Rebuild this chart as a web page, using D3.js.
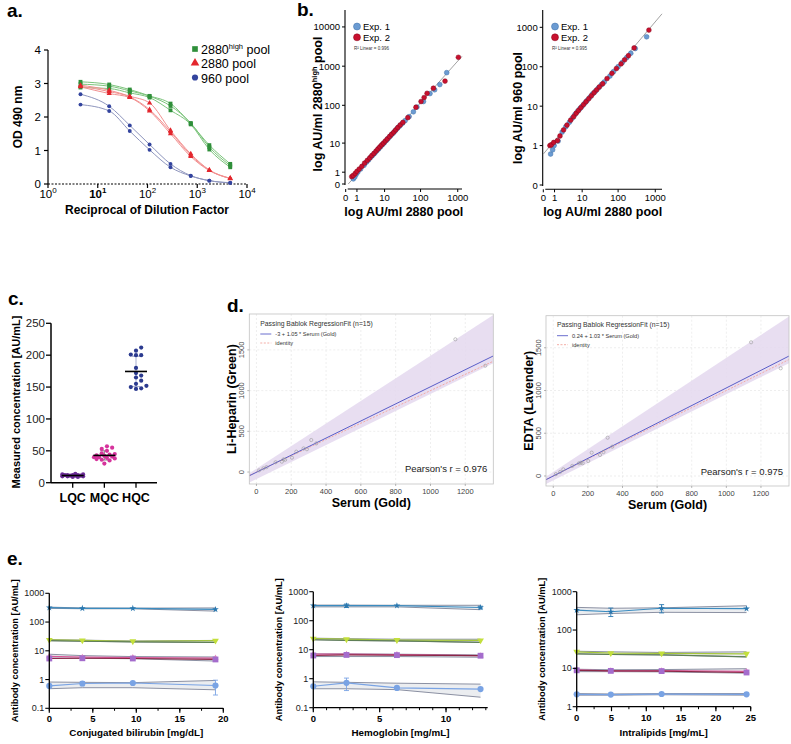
<!DOCTYPE html>
<html><head><meta charset="utf-8">
<script src="https://cdn.jsdelivr.net/npm/d3@7"></script>
<style>body{margin:0;background:#fff;} text{font-family:"Liberation Sans",Arial,Helvetica,sans-serif;}</style>
</head><body><svg id="chart" width="791" height="744"></svg>
<script>
// ---------------- DATA ----------------
// panel a
const aDilution = [4.5, 17, 44, 110, 290, 740, 1750, 4600];
const aHighRep1 = [3.05, 2.97, 2.82, 2.63, 2.40, 1.80, 1.16, 0.60];
const aHighRep2 = [2.88, 2.85, 2.72, 2.58, 2.20, 1.78, 1.03, 0.50];
const aHighRep3 = [2.98, 2.92, 2.78, 2.62, 2.33, 1.82, 1.10, 0.55];
const aMidRep1 = [2.95, 2.80, 2.62, 2.42, 1.60, 0.90, 0.42, 0.17];
const aMidRep2 = [2.90, 2.70, 2.58, 2.18, 1.50, 0.82, 0.40, 0.17];
const aMidRep3 = [2.92, 2.76, 2.60, 2.22, 1.56, 0.86, 0.41, 0.16];
const aLowRep1 = [2.68, 2.32, 1.75, 1.18, 0.60, 0.25, 0.10, 0.04];
const aLowRep2 = [2.37, 2.18, 1.58, 1.02, 0.50, 0.24, 0.10, 0.03];
const aYTicks = [0, 1, 2, 3, 4];
const aXTicks = [1, 10, 100, 1000, 10000];
const aLegend = ["2880", "2880 pool", "960 pool"];

// panel b (left: 2880high vs 2880, right: 960 vs 2880)
const bLeftExp1X = [0.6,0.75,0.9,1.1,1.5,2.1,2.6,3.1,3.7,4.3,5.0,5.8,6.6,7.5,8.6,9.8,11.5,13,15,17.5,20,23,27,32,38,49,64,80,120,180,240,330,506];
const bLeftExp1Y = [0.35,0.5,0.75,1.0,1.4,2.0,2.6,3.1,3.8,4.4,5.1,6.0,6.8,7.8,9.0,10.2,12.0,13.8,16,18.5,21.5,25,29,34,40,51,68,90,125,200,250,340,685];
const bLeftExp2X = [0.45,0.6,0.8,1.0,1.3,1.7,2.2,2.8,3.4,4.0,4.7,5.5,6.3,7.2,8.2,9.3,10.5,12,14,16,18.5,21,24,28,33,45,75,103,125,150,222,456,1040];
const bLeftExp2Y = [0.54,0.65,0.85,1.1,1.4,1.8,2.4,3.0,3.6,4.3,5.0,5.9,6.8,7.8,8.9,10,11.4,13,15.2,17.5,20,23,26.5,31,36,48,89,125,158,203,274,416,1685];
const bRightExp1X = [0.57,0.78,0.95,1.5,2.2,3,4,5,6,7.2,8.5,10,12,14,17,20,24,29,35,42,60,75,100,130,170,220,290,586];
const bRightExp1Y = [0.61,0.78,1.0,1.3,2.2,3,3.9,5,6.1,7.3,8.6,10,12,14,17,20.5,24,29,35,41,58,75,100,128,170,220,290,575];
const bRightExp2X = [0.5,0.65,0.9,1.4,1.8,2.5,3.3,4.4,5.5,6.6,7.8,9.2,11,13,15.5,18.5,22,26,31,38,50,68,90,120,150,190,270,675];
const bRightExp2Y = [1.0,1.05,1.2,1.34,1.75,2.5,3.3,4.4,5.4,6.6,7.8,9.2,11,13,15.5,18.5,22,26,31,37,50,68,90,118,150,190,300,850];
const bLeftFit = [[0.17, 0], [1300, 1790]];
const bRightFit = [[0, 0.61], [1515, 2200]];
const bLeftXTicks = [0, 1, 10, 100, 1000];
const bLeftYTicks = [0, 1, 10, 100, 1000, 10000];
const bRightXTicks = [0, 1, 10, 100, 1000];
const bRightYTicks = [0.1, 1, 10, 100, 1000];
const bRightYLabels = ["0", "1", "10", "100", "1000"];

// panel c
const cCategories = ["LQC", "MQC", "HQC"];
const cLQC = [9, 10, 10, 11, 11, 12, 12, 13, 13, 14, 12, 11, 10, 9, 12];
const cMQC = [57, 55, 53, 50, 46, 45, 44, 43, 42, 41, 40, 40, 39, 38, 37, 36, 35, 30];
const cHQC = [212, 207, 200, 200, 201, 180, 172, 168, 160, 152, 150, 148, 147, 155, 165];
const cYTicks = [0, 50, 100, 150, 200, 250];

// panel d
const dHepSerum = [15, 40, 58, 146, 156, 165, 204, 229, 271, 290, 315, 344, 1143, 1315, 110];
const dHepValue = [20, 45, 60, 127, 156, 150, 176, 250, 290, 280, 393, 352, 1630, 1306, 120];
const dEdtaSerum = [15, 40, 58, 148, 160, 170, 202, 222, 270, 290, 314, 341, 1143, 1314, 110];
const dEdtaValue = [22, 48, 78, 148, 156, 150, 175, 273, 246, 280, 448, 343, 1564, 1260, 118];
const dHepFit = [-3, 1.05];
const dEdtaFit = [0.24, 1.03];
const dHepBandLo = [[-41, -128], [1361, 1335]];
const dHepBandHi = [[-41, -15], [1361, 1929]];
const dEdtaBandLo = [[-42, -95], [1362, 1320]];
const dEdtaBandHi = [[-42, -10], [1362, 1865]];
const dXTicks = [0, 200, 400, 600, 800, 1000, 1200];
const dYTicks = [0, 500, 1000, 1500];

// panel e
const eBiliX = [0, 3.8, 9.6, 19.1];
const biliTeal = [320, 300, 300, 275], biliTealHi = [330, 310, 305, 310], biliTealLo = [300, 290, 290, 240];
const biliGreen = [24, 23, 21.5, 22.5], biliGreenHi = [24.5, 23.5, 22, 23], biliGreenLo = [22.5, 21.5, 20.5, 19.5];
const biliPink = [6.4, 6.0, 5.8, 5.6], biliPurple = [5.4, 5.5, 5.4, 5.0], biliPinkHi = [7.6, 6.8, 6.3, 6.1], biliPinkLo = [5.6, 5.5, 5.3, 4.4];
const biliBlue = [0.6, 0.73, 0.76, 0.62], biliBlueErr = [0, 0.12, 0.04, 0.33], biliBlueHi = [0.82, 0.8, 0.78, 0.93], biliBlueLo = [0.48, 0.52, 0.52, 0.44];
const eHbX = [0, 2.5, 6.3, 12.6];
const hbTeal = [330, 330, 330, 285], hbTealErr = [0, 45, 0, 30], hbTealHi = [345, 345, 340, 340], hbTealLo = [300, 300, 300, 240];
const hbGreen = [24, 23, 21.5, 21], hbGreenHi = [25, 24, 23, 23], hbGreenLo = [22, 21, 20, 18];
const hbPink = [7.0, 7.0, 6.8, 6.2], hbPurple = [6.3, 6.6, 6.5, 6.2], hbPinkHi = [7.2, 7.2, 7.0, 6.6], hbPinkLo = [5.8, 5.8, 5.8, 5.5];
const hbBlue = [0.55, 0.72, 0.48, 0.44], hbBlueErr = [0, 0.33, 0, 0], hbBlueHi = [0.78, 0.75, 0.7, 0.65], hbBlueLo = [0.45, 0.45, 0.42, 0.23];
const eIlX = [0, 4.9, 12.2, 24.4];
const ilTeal = [330, 300, 370, 360], ilTealErr = [0, 75, 90, 0], ilTealHi = [390, 370, 380, 430], ilTealLo = [250, 270, 290, 285];
const ilGreen = [27, 25, 24.5, 24], ilGreenHi = [28, 27, 26, 27], ilGreenLo = [24, 23, 22.5, 20];
const ilPink = [9.2, 8.6, 8.7, 8.3], ilPurple = [8.9, 8.6, 8.5, 7.8], ilPinkHi = [9.5, 9.2, 9.3, 9.8], ilPinkLo = [8.2, 8.2, 8.1, 7.5];
const ilBlue = [2.1, 2.07, 2.14, 2.1], ilBlueHi = [2.2, 2.15, 2.2, 2.2], ilBlueLo = [2.0, 2.0, 2.05, 2.0];

// ---------------- DRAW ----------------
const svg = d3.select('#chart');
svg.append('rect').attr('width', 791).attr('height', 744).attr('fill', '#fff');

function T(g, x, y, s, o = {}) {
  const t = g.append('text').attr('x', x).attr('y', y).text(s)
    .attr('font-size', o.size || 10).attr('fill', o.fill || '#000')
    .attr('text-anchor', o.anchor || 'start').attr('font-weight', o.bold ? 'bold' : 'normal');
  if (o.rotate) t.attr('transform', `rotate(${o.rotate},${x},${y})`);
  return t;
}
function L(g, x1, y1, x2, y2, c = '#000', w = 1, dash) {
  const l = g.append('line').attr('x1', x1).attr('y1', y1).attr('x2', x2).attr('y2', y2)
    .attr('stroke', c).attr('stroke-width', w);
  if (dash) l.attr('stroke-dasharray', dash);
  return l;
}

// ===== Panel a =====
(function () {
  const g = svg.append('g');
  const x = d3.scaleLog().domain([1, 1e4]).range([48, 247]);
  const y = d3.scaleLinear().domain([0, 4]).range([184, 50]);
  L(g, 48, y(4), 48, y(0), '#000', 1.2);
  aYTicks.forEach(t => { L(g, 44, y(t), 48, y(t), '#000', 1.2); T(g, 41, y(t) + 4, String(t), {size: 11.5, anchor: 'end'}); });
  L(g, 48, y(0), 247, y(0), '#000', 1.1, '2,1.5');
  aXTicks.forEach((t, i) => {
    L(g, x(t), y(0), x(t), y(0) + 4, '#000', 1.2);
    const tx = g.append('text').attr('x', x(t)).attr('y', 198).attr('text-anchor', 'middle').attr('font-size', 11.5)
      .attr('font-weight', i === 1 ? 'bold' : 'normal');
    tx.append('tspan').text('10');
    tx.append('tspan').attr('dy', -5).attr('font-size', 8).text(String(i));
  });
  T(g, 147, 214, 'Reciprocal of Dilution Factor', {size: 12, bold: true, anchor: 'middle'});
  T(g, 22, 117, 'OD 490 nm', {size: 12, bold: true, anchor: 'middle', rotate: -90});

  const line = d3.line().x(d => x(d[0])).y(d => y(d[1])).curve(d3.curveMonotoneX);
  const groups = [
    {reps: [aHighRep1, aHighRep2, aHighRep3], lc: '#7cc47c', mc: '#2f8f3a', shape: d3.symbolSquare, size: 15},
    {reps: [aMidRep1, aMidRep2, aMidRep3], lc: '#f29090', mc: '#e3262d', shape: d3.symbolTriangle, size: 12},
    {reps: [aLowRep1, aLowRep2], lc: '#8e95bd', mc: '#33449e', shape: d3.symbolCircle, size: 12}
  ];
  groups.forEach(gr => {
    gr.reps.forEach(r => {
      g.append('path').datum(aDilution.map((d, i) => [d, r[i]])).attr('d', line)
        .attr('fill', 'none').attr('stroke', gr.lc).attr('stroke-width', 1);
    });
  });
  groups.forEach(gr => {
    gr.reps.forEach(r => {
      aDilution.forEach((d, i) => {
        g.append('path').attr('d', d3.symbol(gr.shape, gr.size)())
          .attr('transform', `translate(${x(d)},${y(r[i])})`).attr('fill', gr.mc);
      });
    });
  });
  // legend
  const ly = [49.5, 63.5, 78];
  groups.forEach((gr, i) => {
    g.append('path').attr('d', d3.symbol(gr.shape, i === 2 ? 30 : 32)()).attr('transform', `translate(195,${ly[i] - 0.5})`).attr('fill', gr.mc);
    const tx = g.append('text').attr('x', 201).attr('y', ly[i] + 4.5).attr('font-size', 12.5);
    if (i === 0) {
      tx.append('tspan').text(aLegend[0]);
      tx.append('tspan').attr('dy', -5).attr('font-size', 7.5).text('high');
      tx.append('tspan').attr('dy', 5).text(' pool');
    } else tx.text(aLegend[i]);
  });
})();

// ===== Panel b =====
function drawB(o) {
  const g = svg.append('g');
  const x = d3.scaleSymlog().constant(1).domain(o.xDomain).range(o.xRange);
  const y = (o.yLog ? d3.scaleLog() : d3.scaleSymlog().constant(1)).domain(o.yDomain).range(o.yRange);
  L(g, o.yAxisX, o.yRange[1], o.yAxisX, o.yRange[0] + 1, '#000', 1.1);
  o.yTicks.forEach((t, i) => {
    L(g, o.yAxisX - 3, y(t), o.yAxisX, y(t), '#000', 1);
    T(g, o.yAxisX - 5, y(t) + 3.5, o.yLabels ? o.yLabels[i] : String(t), {size: 9.5, anchor: 'end'});
  });
  L(g, o.xRange[0] + 2, o.xAxisY, o.xRange[1], o.xAxisY, '#000', 1.1);
  o.xTicks.forEach(t => {
    L(g, x(t), o.xAxisY, x(t), o.xAxisY + 3, '#000', 1);
    T(g, x(t), o.xAxisY + 12, String(t), {size: 9.5, anchor: 'middle'});
  });
  g.append('line').attr('x1', x(o.fit[0][0])).attr('y1', y(o.fit[0][1])).attr('x2', x(o.fit[1][0])).attr('y2', y(o.fit[1][1]))
    .attr('stroke', '#8a8a8a').attr('stroke-width', 0.8);
  const pts = (xs, ys, fill, stroke) => xs.forEach((d, i) => g.append('circle').attr('cx', x(d)).attr('cy', y(ys[i])).attr('r', 2.4)
    .attr('fill', fill).attr('stroke', stroke).attr('stroke-width', 0.5));
  pts(o.e1x, o.e1y, '#6b9bd2', '#3d6ea8');
  pts(o.e2x, o.e2y, '#c8102e', '#86091d');
  // legend
  g.append('circle').attr('cx', o.legX).attr('cy', 26.5).attr('r', 3.5).attr('fill', '#6b9bd2').attr('stroke', '#3d6ea8').attr('stroke-width', 0.5);
  g.append('circle').attr('cx', o.legX).attr('cy', 37.3).attr('r', 3.5).attr('fill', '#c8102e').attr('stroke', '#86091d').attr('stroke-width', 0.5);
  T(g, o.legX + 6, 30, 'Exp. 1', {size: 9.5});
  T(g, o.legX + 6, 40.8, 'Exp. 2', {size: 9.5});
  T(g, o.legX - 3, 49.5, o.r2, {size: 4.5, fill: '#333'});
  T(g, (o.xRange[0] + o.xRange[1]) / 2, 216, 'log AU/ml 2880 pool', {size: 12.5, bold: true, anchor: 'middle'});
  const yl = g.append('text').attr('x', o.yTitleX).attr('y', o.yTitleY).attr('text-anchor', 'middle').attr('font-size', 12.5)
    .attr('font-weight', 'bold').attr('transform', `rotate(-90,${o.yTitleX},${o.yTitleY})`);
  if (o.yTitleSup) {
    yl.append('tspan').text('log AU/ml 2880');
    yl.append('tspan').attr('dy', -5).attr('font-size', 7.5).text('high');
    yl.append('tspan').attr('dy', 5).text(' pool');
  } else yl.text(o.yTitle);
}
drawB({xDomain: [0, 1300], xRange: [345.7, 462], yDomain: [0, 27000], yRange: [184, 10], yAxisX: 345, xAxisY: 189,
  xTicks: bLeftXTicks, yTicks: bLeftYTicks, fit: bLeftFit, e1x: bLeftExp1X, e1y: bLeftExp1Y, e2x: bLeftExp2X, e2y: bLeftExp2Y,
  legX: 357, r2: 'R² Linear = 0.996', yTitleX: 322, yTitleY: 104, yTitleSup: true});
drawB({xDomain: [0, 1515], xRange: [543.3, 662], yDomain: [0.1, 2750], yRange: [185, 10], yLog: true, yAxisX: 542.7, xAxisY: 189.3,
  xTicks: bRightXTicks, yTicks: bRightYTicks, yLabels: bRightYLabels, fit: bRightFit, e1x: bRightExp1X, e1y: bRightExp1Y, e2x: bRightExp2X, e2y: bRightExp2Y,
  legX: 555, r2: 'R² Linear = 0.995', yTitleX: 522, yTitleY: 108, yTitle: 'log AU/ml 960 pool'});

// ===== Panel c =====
(function () {
  const g = svg.append('g');
  const y = d3.scaleLinear().domain([0, 250]).range([482.7, 323.3]);
  const x = d3.scalePoint().domain(cCategories).range([72.7, 136]);
  L(g, 51, y(250), 51, y(0), '#000', 1.5);
  cYTicks.forEach(t => { L(g, 46, y(t), 51, y(t), '#000', 1.3); T(g, 45, y(t) + 4, String(t), {size: 11.5, anchor: 'end', fill: '#222'}); });
  L(g, 51, y(0), 157, y(0), '#000', 1.5);
  cCategories.forEach(c => { L(g, x(c), y(0), x(c), y(0) + 5, '#000', 1.3); T(g, x(c), 502, c, {size: 12.5, bold: true, anchor: 'middle'}); });
  T(g, 20, 402, 'Measured concentration [AU/mL]', {size: 11, bold: true, anchor: 'middle', rotate: -90});
  const sets = [[cLQC, '#6b2c96', '#777'], [cMQC, '#d6339c', '#888'], [cHQC, '#2b3a8f', '#a9b0cf']];
  sets.forEach(([vals, col, sdc], k) => {
    const cx = x(cCategories[k]);
    const mean = d3.mean(vals), sd = d3.deviation(vals);
    L(g, cx, y(mean - sd), cx, y(mean + sd), sdc, 1);
    L(g, cx - 4, y(mean - sd), cx + 4, y(mean - sd), sdc, 1);
    L(g, cx - 4, y(mean + sd), cx + 4, y(mean + sd), sdc, 1);
    const placed = [];
    const r = 2.1, step = 2.6, maxOff = 10.5;
    vals.slice().sort((a, b) => a - b).forEach(v => {
      const py = y(v);
      let best = 0, bestD = -1;
      for (let s = 0; s < 20; s++) {
        const cand = (s % 2 ? 1 : -1) * Math.ceil(s / 2) * step;
        if (Math.abs(cand) > maxOff) continue;
        const dmin = placed.length ? d3.min(placed, p => Math.hypot(p[0] - cand, p[1] - py)) : 99;
        if (dmin >= 2 * r + 0.2) { best = cand; bestD = 99; break; }
        if (dmin > bestD) { bestD = dmin; best = cand; }
      }
      placed.push([best, py]);
      g.append('circle').attr('cx', cx + best).attr('cy', py).attr('r', r).attr('fill', col);
    });
    L(g, cx - 11, y(mean), cx + 11, y(mean), '#000', 1.6);
  });
})();

// ===== Panel d =====
function drawD(o) {
  const g = svg.append('g');
  const x = d3.scaleLinear().domain(o.xDomain).range([o.left, o.right]);
  const y = d3.scaleLinear().domain(o.yDomain).range([o.bottom, o.top]);
  g.append('rect').attr('x', o.left).attr('y', o.top).attr('width', o.right - o.left).attr('height', o.bottom - o.top).attr('fill', '#fff');
  const id = 'clip' + o.id;
  g.append('clipPath').attr('id', id).append('rect').attr('x', o.left).attr('y', o.top).attr('width', o.right - o.left).attr('height', o.bottom - o.top);
  const inner = g.append('g').attr('clip-path', `url(#${id})`);
  dXTicks.forEach(t => L(inner, x(t), o.top, x(t), o.bottom, '#e3e3e3', 0.6, '2,2'));
  dYTicks.forEach(t => L(inner, o.left, y(t), o.right, y(t), '#e3e3e3', 0.6, '2,2'));
  const band = [o.bandLo[0], o.bandLo[1], o.bandHi[1], o.bandHi[0]];
  inner.append('path').attr('d', d3.line().x(d => x(d[0])).y(d => y(d[1]))(band) + 'Z').attr('fill', '#e4d8ef').attr('opacity', 0.85);
  const x0 = o.xDomain[0], x1 = o.xDomain[1];
  L(inner, x(x0), y(x0), x(x1), y(x1), '#f3a49c', 0.9, '2,1.5');
  L(inner, x(x0), y(o.fit[0] + o.fit[1] * x0), x(x1), y(o.fit[0] + o.fit[1] * x1), '#5a5ec8', 1);
  o.sx.forEach((v, i) => inner.append('circle').attr('cx', x(v)).attr('cy', y(o.sy[i])).attr('r', 1.6).attr('fill', 'none').attr('stroke', '#9a9a9a').attr('stroke-width', 0.6));
  g.append('rect').attr('x', o.left).attr('y', o.top).attr('width', o.right - o.left).attr('height', o.bottom - o.top).attr('fill', 'none').attr('stroke', '#c2c2c2').attr('stroke-width', 0.8);
  dXTicks.forEach(t => { L(g, x(t), o.bottom, x(t), o.bottom + 2, '#888', 0.6); T(g, x(t), o.bottom + 10, String(t), {size: 7.5, anchor: 'middle', fill: '#444'}); });
  dYTicks.forEach(t => { L(g, o.left - 2, y(t), o.left, y(t), '#888', 0.6); T(g, o.left - 5, y(t), String(t), {size: 7.5, anchor: 'middle', fill: '#444', rotate: -90}); });
  T(g, (o.left + o.right) / 2, o.bottom + 23, 'Serum (Gold)', {size: 12.5, bold: true, anchor: 'middle'});
  T(g, o.left - 13, (o.top + o.bottom) / 2, o.ylab, {size: 12.5, bold: true, anchor: 'middle', rotate: -90});
  // legend
  T(g, o.left + 11, o.top + 11.5, 'Passing Bablok RegressionFit (n=15)', {size: 6.8, fill: '#333'});
  L(g, o.left + 11, o.top + 20, o.left + 22, o.top + 20, '#5a5ec8', 0.9);
  T(g, o.left + 26, o.top + 22, o.fitLabel, {size: 5.6, fill: '#333'});
  L(g, o.left + 11, o.top + 29, o.left + 22, o.top + 29, '#f3a49c', 0.9, '2,1.5');
  T(g, o.left + 26, o.top + 31, 'identity', {size: 5.6, fill: '#333'});
  T(g, o.right - 6, y(0) - 0.5, o.pearson, {size: 9.5, anchor: 'end', fill: '#222'});
}
drawD({id: 'h', left: 249.3, right: 493.3, top: 314, bottom: 484, xDomain: [-41, 1361], yDomain: [-147, 1941],
  sx: dHepSerum, sy: dHepValue, fit: dHepFit, bandLo: dHepBandLo, bandHi: dHepBandHi, ylab: 'Li-Heparin (Green)',
  fitLabel: '-3 + 1.05 * Serum (Gold)', pearson: "Pearson's r = 0.976"});
drawD({id: 'e', left: 546, right: 789, top: 315.7, bottom: 486, xDomain: [-42, 1362], yDomain: [-117, 1875],
  sx: dEdtaSerum, sy: dEdtaValue, fit: dEdtaFit, bandLo: dEdtaBandLo, bandHi: dEdtaBandHi, ylab: 'EDTA (Lavender)',
  fitLabel: '0.24 + 1.03 * Serum (Gold)', pearson: "Pearson's r = 0.975"});

// ===== Panel e =====
function drawE(o) {
  const g = svg.append('g');
  const x = d3.scaleLinear().domain(o.xDomain).range([o.x0, o.x1]);
  const y = d3.scaleLog().domain(o.yDomain).range([o.yB, o.yT]);
  const line = d3.line().x((d, i) => x(o.xs[i])).y(d => y(d));
  const area = d3.area().x((d, i) => x(o.xs[i])).y0(d => y(d[0])).y1(d => y(d[1]));
  o.series.forEach(s => {
    g.append('path').attr('d', area(s.lo.map((v, i) => [v, s.hi[i]]))).attr('fill', '#cdd1da').attr('opacity', 0.4);
    [s.hi, s.lo].concat(s.extra ? [s.extra] : []).forEach(b => g.append('path').attr('d', line(b)).attr('fill', 'none').attr('stroke', '#7f8598').attr('stroke-width', 0.9));
  });
  o.series.forEach(s => {
    s.lines.forEach(([vals, c]) => g.append('path').attr('d', line(vals)).attr('fill', 'none').attr('stroke', c).attr('stroke-width', 1.2));
  });
  o.series.forEach(s => {
    s.marks.forEach(([vals, c, sym, size, err]) => {
      vals.forEach((v, i) => {
        if (err && err[i]) {
          L(g, x(o.xs[i]), y(v - err[i]), x(o.xs[i]), y(v + err[i]), c, 0.9);
          L(g, x(o.xs[i]) - 2.5, y(v - err[i]), x(o.xs[i]) + 2.5, y(v - err[i]), c, 0.9);
          L(g, x(o.xs[i]) - 2.5, y(v + err[i]), x(o.xs[i]) + 2.5, y(v + err[i]), c, 0.9);
        }
        g.append('path').attr('d', d3.symbol(sym, size)()).attr('transform', `translate(${x(o.xs[i])},${y(v)})` + (sym === d3.symbolTriangle && s.down ? ' rotate(180)' : '')).attr('fill', c);
      });
    });
  });
  // axes
  L(g, o.x0, o.yT, o.x0, o.yB, '#000', 1.3);
  o.yTicks.forEach(t => { L(g, o.x0 - 4, y(t), o.x0, y(t), '#000', 1.1); T(g, o.x0 - 5, y(t) + 3, String(t), {size: 9, anchor: 'end', fill: '#222'}); });
  L(g, o.x0, o.yB, o.x1, o.yB, '#000', 1.3);
  d3.range(o.xDomain[0], o.xDomain[1] + 1e-6, o.minor).forEach(t => L(g, x(t), o.yB, x(t), o.yB + 2.5, '#000', 1));
  o.xTicks.forEach(t => { L(g, x(t), o.yB, x(t), o.yB + 4.5, '#000', 1.2); T(g, x(t), o.yB + 14, String(t), {size: 9.5, bold: true, anchor: 'middle'}); });
  T(g, (o.x0 + o.x1) / 2, 736, o.xTitle, {size: 9.8, bold: true, anchor: 'middle'});
  T(g, o.ytx, (o.yT + o.yB) / 2, 'Antibody concentration [AU/mL]', {size: 9.3, bold: true, anchor: 'middle', rotate: -90});
}
function eSeries(teal, tealHi, tealLo, tealErr, green, greenHi, greenLo, pink, purple, pinkHi, pinkLo, blue, blueHi, blueLo, blueErr, blueExtra) {
  return [
    {hi: tealHi, lo: tealLo, lines: [[teal, '#3b8cc0']], marks: [[teal, '#2a78b0', d3.symbolStar, 14, tealErr]]},
    {hi: greenHi, lo: greenLo, lines: [[green, '#a6c83a'], [greenLo, '#5f7f56']], down: true, marks: [[green, '#c3df3c', d3.symbolTriangle, 20, null]]},
    {hi: pinkHi, lo: pinkLo, lines: [[pink, '#d9589a'], [purple, '#8c2746']], marks: [[pink, '#e58cc0', d3.symbolTriangle, 16, null], [purple, '#a46ccc', d3.symbolSquare, 34, null]]},
    {hi: blueHi, lo: blueLo, extra: blueExtra, lines: [[blue, '#79a3e4']], marks: [[blue, '#79a3e4', d3.symbolCircle, 30, blueErr]]}
  ];
}
drawE({x0: 49.3, x1: 223.3, yT: 593.3, yB: 708.3, xDomain: [0, 20], yDomain: [0.1, 1000], xs: eBiliX,
  xTicks: [0, 5, 10, 15, 20], minor: 2.5, yTicks: [0.1, 1, 10, 100, 1000], xTitle: 'Conjugated bilirubin [mg/dL]', ytx: 18,
  series: eSeries(biliTeal, biliTealHi, biliTealLo, null, biliGreen, biliGreenHi, biliGreenLo, biliPink, biliPurple, biliPinkHi, biliPinkLo, biliBlue, biliBlueHi, biliBlueLo, biliBlueErr)});
drawE({x0: 313.3, x1: 487.7, yT: 591.7, yB: 707.7, xDomain: [0, 13.14], yDomain: [0.1, 1000], xs: eHbX,
  xTicks: [0, 5, 10], minor: 1, yTicks: [0.1, 1, 10, 100, 1000], xTitle: 'Hemoglobin [mg/mL]', ytx: 282,
  series: eSeries(hbTeal, hbTealHi, hbTealLo, hbTealErr, hbGreen, hbGreenHi, hbGreenLo, hbPink, hbPurple, hbPinkHi, hbPinkLo, hbBlue, hbBlueHi, hbBlueLo, hbBlueErr)});
drawE({x0: 576.7, x1: 750.7, yT: 591.7, yB: 706.7, xDomain: [0, 25], yDomain: [1, 1000], xs: eIlX,
  xTicks: [0, 5, 10, 15, 20, 25], minor: 2.5, yTicks: [1, 10, 100, 1000], xTitle: 'Intralipids [mg/mL]', ytx: 545,
  series: eSeries(ilTeal, ilTealHi, ilTealLo, ilTealErr, ilGreen, ilGreenHi, ilGreenLo, ilPink, ilPurple, ilPinkHi, ilPinkLo, ilBlue, ilBlueHi, ilBlueLo, null)});

// panel labels (drawn last, on top)
T(svg, 7, 17, 'a.', {size: 19, bold: true});
T(svg, 297, 16, 'b.', {size: 19, bold: true});
T(svg, 8, 305, 'c.', {size: 19, bold: true});
T(svg, 227, 312, 'd.', {size: 19, bold: true});
T(svg, 7, 565, 'e.', {size: 19, bold: true});
</script></body></html>
